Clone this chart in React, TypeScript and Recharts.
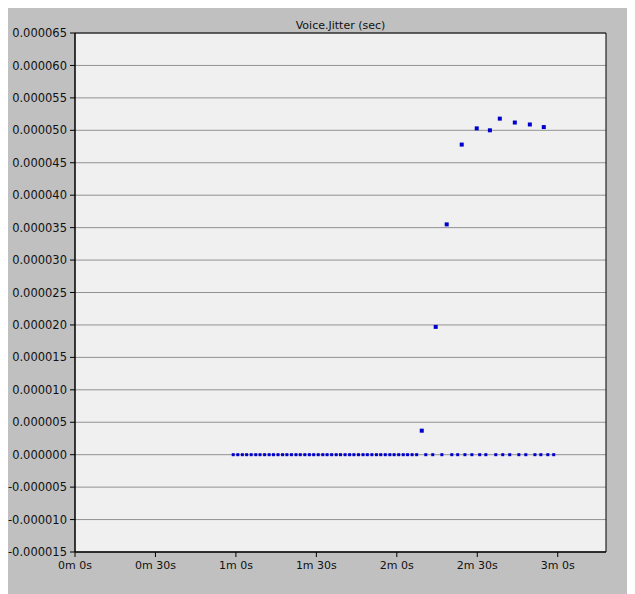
import React from "react";
import {
  ScatterChart,
  Scatter,
  XAxis,
  YAxis,
  CartesianGrid,
  ReferenceArea,
} from "recharts";

// Time (seconds) of samples that read 0 jitter
const zeroTimes: number[] = [
  59, 60.7, 62.4, 64, 65.7, 67.4, 69, 70.7, 72.4, 74, 75.7, 77.4, 79, 80.7,
  82.4, 84, 85.7, 87.4, 89, 90.7, 92.4, 94, 95.7, 97.4, 99, 100.7, 102.4, 104,
  105.7, 107.4, 109, 110.7, 112.4, 114, 115.7, 117.4, 119, 120.7, 122.4, 124,
  125.7, 127.4, 130.8, 133.4, 136.8, 140.5, 142.7, 145.4, 148.0, 150.9, 153.2,
  156.9, 159.5, 162.1, 165.5, 168.1, 171.5, 173.7, 176.3, 178.5,
];

// Samples with non-zero jitter
const jitterTimes: number[] = [
  129.3, 134.5, 138.6, 144.2, 149.8, 154.7, 158.4, 164.0, 169.6, 174.8,
];
const jitterValues: number[] = [
  0.0000037, 0.0000197, 0.0000355, 0.0000478, 0.0000503, 0.00005, 0.0000518,
  0.0000512, 0.0000509, 0.0000505,
];

const yTicks: number[] = [
  -0.000015, -0.00001, -0.000005, 0, 0.000005, 0.00001, 0.000015, 0.00002,
  0.000025, 0.00003, 0.000035, 0.00004, 0.000045, 0.00005, 0.000055, 0.00006,
  0.000065,
];
const yTickLabels: string[] = [
  "-0.000015", "-0.000010", "-0.000005", "0.000000", "0.000005", "0.000010",
  "0.000015", "0.000020", "0.000025", "0.000030", "0.000035", "0.000040",
  "0.000045", "0.000050", "0.000055", "0.000060", "0.000065",
];
const xTicks: number[] = [0, 30, 60, 90, 120, 150, 180];
const xTickLabels: string[] = [
  "0m 0s", "0m 30s", "1m 0s", "1m 30s", "2m 0s", "2m 30s", "3m 0s",
];

const X_MAX = 198;
const Y_MIN = -0.000015;
const Y_MAX = 0.000065;

const zeroPoints = zeroTimes.map((t) => ({ t, v: 0 }));
const jitterPoints = jitterTimes.map((t, i) => ({ t, v: jitterValues[i] }));

const FONT = "'DejaVu Sans', Verdana, sans-serif";
const BLUE = "#0000cc";

const SmallSquare = (props: any) => (
  <rect x={props.cx - 1.5} y={props.cy - 1.5} width={3} height={3} fill={BLUE} />
);
const BigSquare = (props: any) => (
  <rect x={props.cx - 2} y={props.cy - 2} width={4} height={4} fill={BLUE} />
);

export default function App() {
  return (
    <div
      style={{
        position: "relative",
        width: 627,
        height: 586,
        background: "#c0c0c0",
        fontFamily: FONT,
      }}
    >
      <div
        style={{
          position: "absolute",
          left: 67,
          width: 531,
          top: 11,
          textAlign: "center",
          fontSize: 11,
          color: "#111",
          fontFamily: FONT,
        }}
      >
        Voice.Jitter (sec)
      </div>
      <ScatterChart
        width={627}
        height={586}
        margin={{ top: 25, right: 29, bottom: 12, left: 7 }}
      >
        <CartesianGrid
          vertical={false}
          horizontal={true}
          stroke="#929292"
          fill="#f0f0f0"
          fillOpacity={1}
        />
        <XAxis
          type="number"
          dataKey="t"
          domain={[0, X_MAX]}
          ticks={xTicks}
          allowDataOverflow
          tickFormatter={(v: number) => xTickLabels[xTicks.indexOf(v)] ?? ""}
          tick={{ fill: "#111", fontSize: 11, fontFamily: FONT }}
          tickLine={{ stroke: "#000" }}
          axisLine={{ stroke: "#000" }}
          tickSize={5}
          tickMargin={4}
          height={30}
        />
        <YAxis
          type="number"
          dataKey="v"
          domain={[Y_MIN, Y_MAX]}
          ticks={yTicks}
          allowDataOverflow
          interval={0}
          tickFormatter={(v: number) => {
            let best = 0;
            for (let i = 0; i < yTicks.length; i++) {
              if (Math.abs(yTicks[i] - v) < Math.abs(yTicks[best] - v)) best = i;
            }
            return yTickLabels[best];
          }}
          tick={{ fill: "#111", fontSize: 11.5, fontFamily: FONT }}
          tickLine={{ stroke: "#000" }}
          axisLine={{ stroke: "#000" }}
          tickSize={5}
          tickMargin={3}
          width={60}
        />
        <ReferenceArea
          x1={0}
          x2={X_MAX}
          y1={Y_MIN}
          y2={Y_MAX}
          fill="none"
          stroke="#000"
          strokeWidth={1}
          ifOverflow="extendDomain"
        />
        <Scatter
          data={zeroPoints}
          shape={SmallSquare}
          isAnimationActive={false}
        />
        <Scatter
          data={jitterPoints}
          shape={BigSquare}
          isAnimationActive={false}
        />
      </ScatterChart>
    </div>
  );
}
